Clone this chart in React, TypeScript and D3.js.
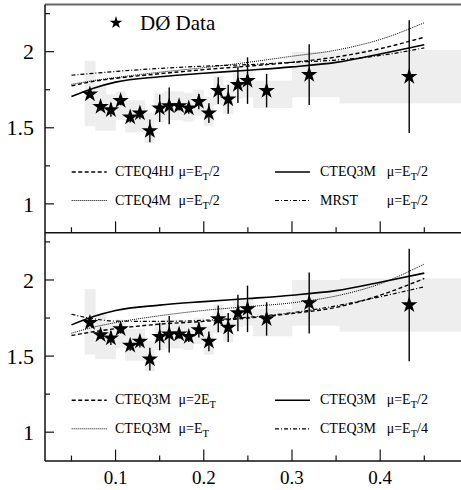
import * as d3 from "d3";

// D0 data points (x, ratio) with stat errors
const xPts = [0.0709, 0.083, 0.0947, 0.1057, 0.1166, 0.1276, 0.1389, 0.15, 0.1608, 0.172, 0.183, 0.1944, 0.2058, 0.2164, 0.2277, 0.2387, 0.2496, 0.2712, 0.3195, 0.4329];
const yPts = [1.72, 1.639, 1.617, 1.678, 1.57, 1.596, 1.48, 1.628, 1.644, 1.644, 1.628, 1.672, 1.596, 1.744, 1.688, 1.783, 1.81, 1.744, 1.849, 1.836];
const yErr = [0.02, 0.025, 0.045, 0.03, 0.035, 0.04, 0.075, 0.09, 0.12, 0.03, 0.035, 0.05, 0.065, 0.088, 0.095, 0.12, 0.153, 0.11, 0.2, 0.37];

// systematic band (stepped)
const sysEdges = [0.065, 0.077, 0.089, 0.1, 0.111, 0.122, 0.133, 0.144, 0.155, 0.166, 0.177, 0.188, 0.2, 0.211, 0.222, 0.233, 0.244, 0.256, 0.3, 0.354, 0.52];
const sysHi = [1.94, 1.78, 1.72, 1.74, 1.68, 1.68, 1.6, 1.73, 1.74, 1.74, 1.73, 1.75, 1.7, 1.84, 1.78, 1.87, 1.88, 1.81, 2.0, 2.01];
const sysLo = [1.51, 1.48, 1.48, 1.55, 1.47, 1.47, 1.4, 1.54, 1.55, 1.55, 1.54, 1.58, 1.51, 1.65, 1.59, 1.69, 1.7, 1.63, 1.7, 1.66];

// theory curves
const curveX = [0.05, 0.075, 0.1, 0.15, 0.2, 0.25, 0.3, 0.35, 0.4, 0.45];
const cteq3mHalf = [1.705, 1.76, 1.8, 1.835, 1.858, 1.878, 1.9, 1.93, 1.985, 2.045];
const cteq4hj = [1.775, 1.805, 1.825, 1.855, 1.882, 1.905, 1.93, 1.965, 2.02, 2.095];
const cteq4m = [1.785, 1.81, 1.83, 1.865, 1.895, 1.93, 1.97, 2.01, 2.08, 2.19];
const mrst = [1.845, 1.858, 1.87, 1.89, 1.905, 1.915, 1.93, 1.945, 1.975, 2.025];
const cteq3m2Et = [1.635, 1.66, 1.68, 1.71, 1.728, 1.75, 1.78, 1.82, 1.9, 2.01];
const cteq3mEt = [1.65, 1.69, 1.72, 1.765, 1.8, 1.825, 1.85, 1.895, 1.975, 2.105];
const cteq3mQuarter = [1.775, 1.745, 1.73, 1.728, 1.735, 1.755, 1.785, 1.83, 1.89, 1.955];

const xMajor = [0.1, 0.2, 0.3, 0.4];
const xMinor = [0.05, 0.15, 0.25, 0.35, 0.45];
const yMajor = [1, 1.5, 2];
const yMinor = [1.25, 1.75, 2.25];

const dashStyles: Record<string, { dash?: string; w: number }> = {
  solid: { w: 1.6 },
  dashed: { dash: "4 2.5", w: 1.4 },
  dotted: { dash: "1 1", w: 1 },
  dashdot: { dash: "4 2 1 2", w: 1.2 },
};

type Entry = { name: string; f: string; sub: string; post: string; style: string; series: number[] };

const topEntries: Entry[] = [
  { name: "CTEQ4HJ", f: "μ=E", sub: "T", post: "/2", style: "dashed", series: cteq4hj },
  { name: "CTEQ3M", f: "μ=E", sub: "T", post: "/2", style: "solid", series: cteq3mHalf },
  { name: "CTEQ4M", f: "μ=E", sub: "T", post: "/2", style: "dotted", series: cteq4m },
  { name: "MRST", f: "μ=E", sub: "T", post: "/2", style: "dashdot", series: mrst },
];
const bottomEntries: Entry[] = [
  { name: "CTEQ3M", f: "μ=2E", sub: "T", post: "", style: "dashed", series: cteq3m2Et },
  { name: "CTEQ3M", f: "μ=E", sub: "T", post: "/2", style: "solid", series: cteq3mHalf },
  { name: "CTEQ3M", f: "μ=E", sub: "T", post: "", style: "dotted", series: cteq3mEt },
  { name: "CTEQ3M", f: "μ=E", sub: "T", post: "/4", style: "dashdot", series: cteq3mQuarter },
];

const W = 461;
const H = 490;
const left = 45;
const panelH = 228.3;
const tops = [4.5, 4.5 + panelH];
const font = "'Liberation Serif', 'Times New Roman', Times, 'DejaVu Serif', serif";

const x = d3.scaleLinear().domain([0.02, 0.5]).range([left, 468.4]);

const Panel = ({ top, entries, showData }: { top: number; entries: Entry[]; showData: boolean }) => {
  const y = d3.scaleLinear().domain([0.81, 2.31]).range([top + panelH, top]);
  const line = d3
    .line<number>()
    .x((_, i) => x(curveX[i]))
    .y((d) => y(d))
    .curve(d3.curveMonotoneX);
  const star = d3.symbol(d3.symbolStar, 85)() as string;
  const bottom = top + panelH;
  const legendCols = [
    { lx0: 71.7, lx1: 106.7, tx: 115, fx: 178.5 },
    { lx0: 275, lx1: 310, tx: 320, fx: 386.7 },
  ];
  const rows = [top + 167.5, top + 196];
  return (
    <g>
      {/* systematic band */}
      <g fill="#eeeeee">
        {sysHi.map((hi, i) => (
          <rect key={i} x={x(sysEdges[i])} width={x(sysEdges[i + 1]) - x(sysEdges[i]) + 0.3} y={y(hi)} height={y(sysLo[i]) - y(hi)} />
        ))}
      </g>
      {/* theory curves */}
      {entries.map((e, i) => (
        <path key={i} d={line(e.series) ?? ""} fill="none" stroke="#000" strokeWidth={dashStyles[e.style].w} strokeDasharray={dashStyles[e.style].dash} />
      ))}
      {/* data */}
      <g stroke="#000" strokeWidth={1.4}>
        {xPts.map((xv, i) => (
          <line key={i} x1={x(xv)} x2={x(xv)} y1={y(yPts[i] - yErr[i])} y2={y(yPts[i] + yErr[i])} />
        ))}
      </g>
      <g fill="#000">
        {xPts.map((xv, i) => (
          <path key={i} d={star} transform={`translate(${x(xv)},${y(yPts[i])})`} />
        ))}
      </g>
      {/* axes */}
      <line x1={left} x2={W} y1={bottom} y2={bottom} stroke="#111" strokeWidth={1.5} />
      {xMajor.map((v) => (
        <line key={v} x1={x(v)} x2={x(v)} y1={bottom} y2={bottom - 11.5} stroke="#111" strokeWidth={1.2} />
      ))}
      {xMinor.map((v) => (
        <line key={v} x1={x(v)} x2={x(v)} y1={bottom} y2={bottom - 5.5} stroke="#111" strokeWidth={1.2} />
      ))}
      {yMajor.map((v) => (
        <g key={v}>
          <line x1={left} x2={left + 9} y1={y(v)} y2={y(v)} stroke="#111" strokeWidth={1.2} />
          <text x={34} y={y(v)} dy="0.35em" textAnchor="end" style={{ fontFamily: font, fontSize: 22 }}>
            {v}
          </text>
        </g>
      ))}
      {yMinor.map((v) => (
        <line key={v} x1={left} x2={left + 5} y1={y(v)} y2={y(v)} stroke="#111" strokeWidth={1.2} />
      ))}
      {/* legend */}
      {entries.map((e, i) => {
        const c = legendCols[i % 2];
        const ry = rows[Math.floor(i / 2)];
        const st = dashStyles[e.style];
        return (
          <g key={i} style={{ fontFamily: font, fontSize: 14 }}>
            <line x1={c.lx0} x2={c.lx1} y1={ry} y2={ry} stroke="#000" strokeWidth={st.w} strokeDasharray={st.dash} />
            <text x={c.tx} y={ry + 4}>{e.name}</text>
            <text x={c.fx} y={ry + 4}>
              {e.f}
              <tspan style={{ fontSize: 10.5 }} dy={4}>{e.sub}</tspan>
              <tspan dy={-4}>{e.post}</tspan>
            </text>
          </g>
        );
      })}
      {showData && (
        <g>
          <path d={d3.symbol(d3.symbolStar, 50)() as string} transform={`translate(116,22.7)`} fill="#000" />
          <text x={140} y={29.5} style={{ fontFamily: font, fontSize: 21 }}>
            DØ Data
          </text>
        </g>
      )}
    </g>
  );
};

export default function App() {
  return (
    <svg width={W} height={H} viewBox={`0 0 ${W} ${H}`} style={{ position: "absolute", left: 0, top: 0, background: "#fff" }}>
      <rect width={W} height={H} fill="#fff" />
      <Panel top={tops[0]} entries={topEntries} showData />
      <Panel top={tops[1]} entries={bottomEntries} showData={false} />
      {/* frame */}
      <line x1={left} x2={W} y1={tops[0]} y2={tops[0]} stroke="#666" strokeWidth={2} />
      <line x1={left} x2={left} y1={tops[0]} y2={tops[1] + panelH} stroke="#111" strokeWidth={1.5} />
      {xMajor.map((v) => (
        <text key={v} x={x(v)} y={484} textAnchor="middle" style={{ fontFamily: font, fontSize: 19 }}>
          {v}
        </text>
      ))}
    </svg>
  );
}
